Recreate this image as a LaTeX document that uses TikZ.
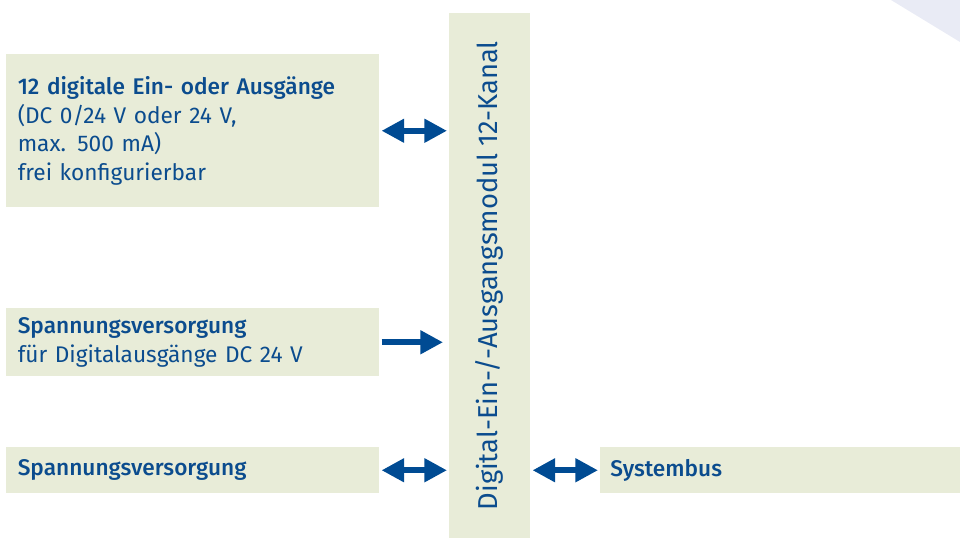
\documentclass[tikz,border=0pt]{standalone}
\usepackage{fontspec}
\setmainfont{Fira Sans}[BoldFont={Fira Sans Medium}]
\usetikzlibrary{arrows.meta,positioning}
\definecolor{boxgreen}{HTML}{E8ECD8}
\definecolor{textblue}{HTML}{0B4C8E}
\definecolor{arrowblue}{HTML}{004B93}
\definecolor{cornerlav}{HTML}{E9EBF5}
\begin{document}
\begin{tikzpicture}[x=0.75pt,y=-0.75pt,
  box/.style={fill=boxgreen,text=textblue,inner xsep=7pt,inner ysep=0pt,anchor=north west,align=left,font=\fontsize{17}{21.5}\selectfont},
  link/.style={draw=arrowblue,line width=4.5pt,shorten <=1.5pt,shorten >=1.5pt},
  tip/.style={Triangle[length=17pt,width=17pt]}]
  \useasboundingbox (0,0) rectangle (960,538);
  \fill[cornerlav] (891,0) -- (960,0) -- (960,42) -- cycle;

  \node[box,minimum width=373*0.75pt,minimum height=153*0.75pt,text width=350*0.75pt] (io) at (6,54) {\textbf{12 digitale Ein- oder Ausgänge}\\(DC 0/24 V oder 24 V,\\max. 500 mA)\\frei konfigurierbar};
  \node[box,minimum width=373*0.75pt,minimum height=68*0.75pt,text width=350*0.75pt] (supdo) at (6,308) {\textbf{Spannungsversorgung}\\für Digitalausgänge DC 24 V};
  \node[box,minimum width=373*0.75pt,minimum height=46*0.75pt,text width=350*0.75pt] (sup) at (6,447) {\textbf{Spannungsversorgung}};
  \node[box,minimum width=360*0.75pt,minimum height=46*0.75pt,text width=340*0.75pt] (bus) at (600,447) {\textbf{Systembus}};
  \node[box,inner xsep=0pt,minimum width=81*0.75pt,minimum height=525*0.75pt] (mod) at (449,13) {};
  \node[text=textblue,rotate=90,font=\fontsize{20.5}{24}\selectfont] (modtxt) at (mod.center) {Digital-Ein-/-Ausgangsmodul 12-Kanal};

  \draw[link,{Triangle[length=17pt,width=17pt]}-{Triangle[length=17pt,width=17pt]}] (io.east) -- (io.east -| mod.west);
  \draw[link,-{Triangle[length=17pt,width=17pt]},shorten >=4.5pt] (supdo.east) -- (supdo.east -| mod.west);
  \draw[link,{Triangle[length=17pt,width=17pt]}-{Triangle[length=17pt,width=17pt]}] (sup.east) -- (sup.east -| mod.west);
  \draw[link,{Triangle[length=17pt,width=17pt]}-{Triangle[length=17pt,width=17pt]}] (sup.east -| mod.east) -- (bus.west);
\end{tikzpicture}
\end{document}
